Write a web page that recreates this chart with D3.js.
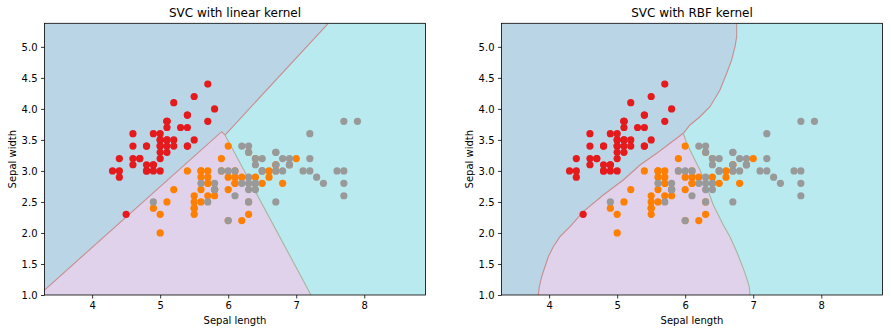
<!DOCTYPE html>
<html><head><meta charset="utf-8">
<script src="https://cdn.jsdelivr.net/npm/d3@7"></script>
<style>body{margin:0;background:#fff} text{font-family:"DejaVu Sans",sans-serif}</style>
</head><body><svg id="c" width="891" height="333"></svg>
<script>
// ---- Iris data (sepal length, sepal width) ----
const setosaLength = [5.1,4.9,4.7,4.6,5.0,5.4,4.6,5.0,4.4,4.9,5.4,4.8,4.8,4.3,5.8,5.7,5.4,5.1,5.7,5.1,5.4,5.1,4.6,5.1,4.8,5.0,5.0,5.2,5.2,4.7,4.8,5.4,5.2,5.5,4.9,5.0,5.5,4.9,4.4,5.1,5.0,4.5,4.4,5.0,5.1,4.8,5.1,4.6,5.3,5.0];
const setosaWidth  = [3.5,3.0,3.2,3.1,3.6,3.9,3.4,3.4,2.9,3.1,3.7,3.4,3.0,3.0,4.0,4.4,3.9,3.5,3.8,3.8,3.4,3.7,3.6,3.3,3.4,3.0,3.4,3.5,3.4,3.2,3.1,3.4,4.1,4.2,3.1,3.2,3.5,3.6,3.0,3.4,3.5,2.3,3.2,3.5,3.8,3.0,3.8,3.2,3.7,3.3];
const versicolorLength = [7.0,6.4,6.9,5.5,6.5,5.7,6.3,4.9,6.6,5.2,5.0,5.9,6.0,6.1,5.6,6.7,5.6,5.8,6.2,5.6,5.9,6.1,6.3,6.1,6.4,6.6,6.8,6.7,6.0,5.7,5.5,5.5,5.8,6.0,5.4,6.0,6.7,6.3,5.6,5.5,5.5,6.1,5.8,5.0,5.6,5.7,5.7,6.2,5.1,5.7];
const versicolorWidth  = [3.2,3.2,3.1,2.3,2.8,2.8,3.3,2.4,2.9,2.7,2.0,3.0,2.2,2.9,2.9,3.1,3.0,2.7,2.2,2.5,3.2,2.8,2.5,2.8,2.9,3.0,2.8,3.0,2.9,2.6,2.4,2.4,2.7,2.7,3.0,3.4,3.1,2.3,3.0,2.5,2.6,3.0,2.6,2.3,2.7,3.0,2.9,2.9,2.5,2.8];
const virginicaLength = [6.3,5.8,7.1,6.3,6.5,7.6,4.9,7.3,6.7,7.2,6.5,6.4,6.8,5.7,5.8,6.4,6.5,7.7,7.7,6.0,6.9,5.6,7.7,6.3,6.7,7.2,6.2,6.1,6.4,7.2,7.4,7.9,6.4,6.3,6.1,7.7,6.3,6.4,6.0,6.9,6.7,6.9,5.8,6.8,6.7,6.7,6.3,6.5,6.2,5.9];
const virginicaWidth  = [3.3,2.7,3.0,2.9,3.0,3.0,2.5,2.9,2.5,3.6,3.2,2.7,3.0,2.5,2.8,3.2,3.0,3.8,2.6,2.2,3.2,2.8,2.8,2.7,3.3,3.2,2.8,3.0,2.8,3.0,2.8,3.8,2.8,2.8,2.6,3.0,3.4,3.1,3.0,3.1,3.1,3.1,2.7,3.2,3.3,3.0,2.5,3.0,3.4,3.0];

// ---- axis ----
const xDomain = [3.3, 8.9];
const yDomain = [1.0, 5.38];
const xTicks = [4, 5, 6, 7, 8];
const yTicks = [1.0, 1.5, 2.0, 2.5, 3.0, 3.5, 4.0, 4.5, 5.0];
const titles = ["SVC with linear kernel", "SVC with RBF kernel"];
const xLabel = "Sepal length";
const yLabel = "Sepal width";

// ---- decision boundaries (data coords) ----
// BL: blue/lavender (edge -> junction), BC: blue/cyan (junction -> top), LC: lavender/cyan (junction -> bottom)
const linearBL = [[3.3,1.08],[5.904,3.633],[5.953,3.579]];
const linearBC = [[5.953,3.579],[7.471,5.38]];
const linearLC = [[5.953,3.579],[7.217,1.0]];

const rbfBL = [[3.841,1.0],[3.856,1.134],[3.891,1.295],[3.939,1.456],[3.988,1.617],[4.061,1.779],[4.160,1.940],[4.307,2.101],[4.502,2.343],[4.796,2.612],[5.090,2.854],[5.336,3.096],[5.581,3.284],[5.777,3.446],[5.972,3.607]];
const rbfBC = [[5.972,3.607],[6.070,3.741],[6.217,3.874],[6.364,4.036],[6.511,4.305],[6.610,4.574],[6.683,4.789],[6.732,5.003],[6.757,5.164],[6.757,5.38]];
const rbfLC = [[5.972,3.607],[6.022,3.446],[6.119,3.230],[6.217,3.015],[6.316,2.746],[6.410,2.460],[6.486,2.290],[6.560,2.128],[6.658,1.940],[6.757,1.698],[6.805,1.564],[6.854,1.430],[6.904,1.269],[6.942,1.134],[6.952,1.0]];

const panelsData = [
  {title: titles[0], BL: linearBL, BC: linearBC, LC: linearLC},
  {title: titles[1], BL: rbfBL, BC: rbfBC, LC: rbfLC}
];

const svg = d3.select("#c");
svg.append("rect").attr("width",891).attr("height",333).attr("fill","#fff");

const axLeft = [44.5, 501.5], axW = 381, axTop = 23.3, axBottom = 295;
const colBlue = "#bad5e6", colLav = "#e0d2eb", colCyan = "#b9eaef";
const lineRed = "#c98d8c", lineGreen = "#a9b59d";
const ptColors = ["#e41a1c", "#ff7f00", "#999999"];
const classes = [[setosaLength, setosaWidth],[versicolorLength, versicolorWidth],[virginicaLength, virginicaWidth]];

panelsData.forEach((p, i) => {
  const x = d3.scaleLinear().domain(xDomain).range([axLeft[i], axLeft[i] + axW]);
  const y = d3.scaleLinear().domain(yDomain).range([axBottom, axTop]);
  const g = svg.append("g");
  const line = d3.line().x(d => x(d[0])).y(d => y(d[1]));
  const [x0, x1] = xDomain, [y0, y1] = yDomain;

  // background (blue class)
  g.append("path").attr("d", line([[x0,y0],[x1,y0],[x1,y1],[x0,y1]]) + "Z").attr("fill", colBlue);
  // lavender
  g.append("path").attr("d", line([[x0,y0], ...p.BL, ...p.LC.slice(1)]) + "Z").attr("fill", colLav);
  // cyan
  g.append("path").attr("d", line([...p.BC, [x1,y1],[x1,y0], ...p.LC.slice().reverse()]) + "Z").attr("fill", colCyan);
  // boundary lines
  g.append("path").attr("d", line(p.BL)).attr("fill","none").attr("stroke", lineRed).attr("stroke-width",1.1);
  g.append("path").attr("d", line(p.BC)).attr("fill","none").attr("stroke", lineRed).attr("stroke-width",1.1);
  g.append("path").attr("d", line(p.LC)).attr("fill","none").attr("stroke", lineGreen).attr("stroke-width",1.1);

  // points
  classes.forEach((c, k) => {
    g.append("g").selectAll("circle").data(c[0]).join("circle")
      .attr("cx", d => x(d)).attr("cy", (d, j) => y(c[1][j]))
      .attr("r", 3.6).attr("fill", ptColors[k]);
  });

  // frame
  g.append("rect").attr("x", axLeft[i]).attr("y", axTop).attr("width", axW).attr("height", axBottom - axTop)
    .attr("fill","none").attr("stroke","#000").attr("stroke-width",0.8);

  // axes
  const xa = g.append("g").attr("transform", `translate(0,${axBottom})`)
    .call(d3.axisBottom(x).tickValues(xTicks).tickFormat(d3.format("d")).tickSize(3.5).tickPadding(3.5));
  const ya = g.append("g").attr("transform", `translate(${axLeft[i]},0)`)
    .call(d3.axisLeft(y).tickValues(yTicks).tickFormat(d3.format(".1f")).tickSize(3.5).tickPadding(3.5));
  [xa, ya].forEach(a => {
    a.select(".domain").remove();
    a.selectAll("line").attr("stroke","#000").attr("stroke-width",0.8);
    a.selectAll("text").attr("font-size",10).attr("fill","#000").style("font-family","DejaVu Sans");
  });

  // title
  g.append("text").attr("x", axLeft[i] + axW/2).attr("y", 17.3).attr("text-anchor","middle")
    .attr("font-size",12).attr("fill","#000").text(p.title);
  // x label
  g.append("text").attr("x", axLeft[i] + axW/2).attr("y", 324).attr("text-anchor","middle")
    .attr("font-size",10).attr("fill","#000").text(xLabel);
  // y label
  g.append("text").attr("transform", `translate(${axLeft[i] - 28.5},${(axTop+axBottom)/2}) rotate(-90)`)
    .attr("text-anchor","middle").attr("font-size",10).attr("fill","#000").text(yLabel);
});
</script>
</body></html>
